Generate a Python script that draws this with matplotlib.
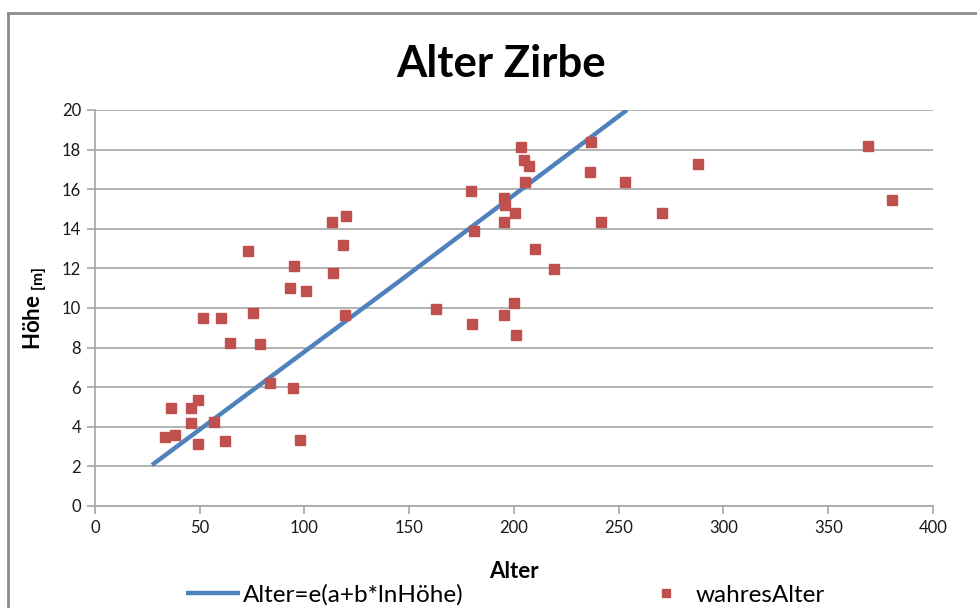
import matplotlib
matplotlib.use("Agg")
import matplotlib.pyplot as plt
from matplotlib.lines import Line2D

plt.rcParams['font.family'] = ['Lato', 'DejaVu Sans']
plt.rcParams['mathtext.fontset'] = 'custom'
plt.rcParams['mathtext.rm'] = 'Lato'
plt.rcParams['mathtext.bf'] = 'Lato:bold'

# gemessene Bäume: Alter (Jahre) und Höhe (m)
alter = [33.4, 36.3, 38.2, 45.8, 45.8, 49.2, 49.2, 51.6, 56.8, 60.1,
         62.1, 64.4, 73.0, 75.4, 78.8, 83.5, 93.1, 94.5, 95.0, 97.9,
         100.7, 113.1, 113.6, 118.4, 119.3, 119.8, 162.8, 179.5, 180.0, 180.9,
         195.2, 195.2, 195.2, 195.7, 199.9, 200.5, 200.9, 203.3, 204.8, 205.3,
         207.2, 210.0, 219.1, 236.3, 236.8, 241.5, 253.0, 270.6, 287.8, 369.0,
         380.4]
hoehe = [3.48, 4.95, 3.59, 4.95, 4.19, 5.35, 3.13, 9.49, 4.24, 9.49,
         3.28, 8.23, 12.88, 9.75, 8.18, 6.21, 11.01, 5.96, 12.12, 3.33,
         10.86, 14.34, 11.77, 13.18, 9.65, 14.65, 9.95, 15.91, 9.19, 13.89,
         9.65, 14.34, 15.56, 15.20, 10.25, 14.80, 8.64, 18.13, 17.47, 16.36,
         17.17, 12.98, 11.97, 16.87, 18.38, 14.34, 16.36, 14.80, 17.27, 18.18,
         15.45]

# Regressionskurve Alter=e(a+b*lnHöhe)
fit_alter = [27.2, 145.6, 253.9]
fit_hoehe = [2.07, 11.38, 20.0]

blue = '#4F81BD'
red = '#C0504D'
grid_grey = '#A6A6A6'

fig = plt.figure(figsize=(9.78, 6.08), dpi=100)
ax = fig.add_axes([95 / 978, 1 - 506 / 608, 838 / 978, 396 / 608])

ax.plot(fit_alter, fit_hoehe, color=blue, lw=3.2, solid_capstyle='butt',
        label='Alter=e(a+b*lnHöhe)', zorder=3)
ax.plot(alter, hoehe, ls='none', marker='s', ms=7.2, color=red,
        markeredgecolor=red, label='wahresAlter', zorder=4)

ax.set_xlim(0, 400)
ax.set_ylim(0, 20)
ax.set_xticks(range(0, 401, 50))
ax.set_yticks(range(0, 21, 2))
ax.yaxis.grid(True, color=grid_grey, lw=1.2)
ax.set_axisbelow(True)
for side in ('top', 'right'):
    ax.spines[side].set_visible(False)
for side in ('left', 'bottom'):
    ax.spines[side].set_color(grid_grey)
    ax.spines[side].set_linewidth(1.2)
ax.tick_params(axis='both', direction='out', length=6, width=1.2,
               color=grid_grey, labelsize=12, labelcolor='#1a1a1a', pad=4)

ax.set_xlabel('Alter', fontsize=16, fontweight='bold', labelpad=18)
ax.set_ylabel(r'Höhe $_{\mathbf{[m]}}$', fontsize=16, fontweight='bold', labelpad=9)

fig.text(0.512, 1 - 64 / 608, 'Alter Zirbe', ha='center', va='center',
         fontsize=31.5, fontweight='bold')

fig.legend(loc='center', bbox_to_anchor=(0.517, 1 - 595 / 608), ncol=2,
           frameon=False, fontsize=17.5, handlelength=2.2, handletextpad=0.15,
           columnspacing=7.2, markerscale=0.75)

# Rahmen des Diagrammbereichs
fig.add_artist(Line2D([8 / 978, 8 / 978], [0, 1 - 13 / 608],
                      transform=fig.transFigure, color='#8C8C8C', lw=2))
fig.add_artist(Line2D([8 / 978, 1], [1 - 13 / 608, 1 - 13 / 608],
                      transform=fig.transFigure, color='#8C8C8C', lw=2))

fig.savefig('out.png', dpi=100)
